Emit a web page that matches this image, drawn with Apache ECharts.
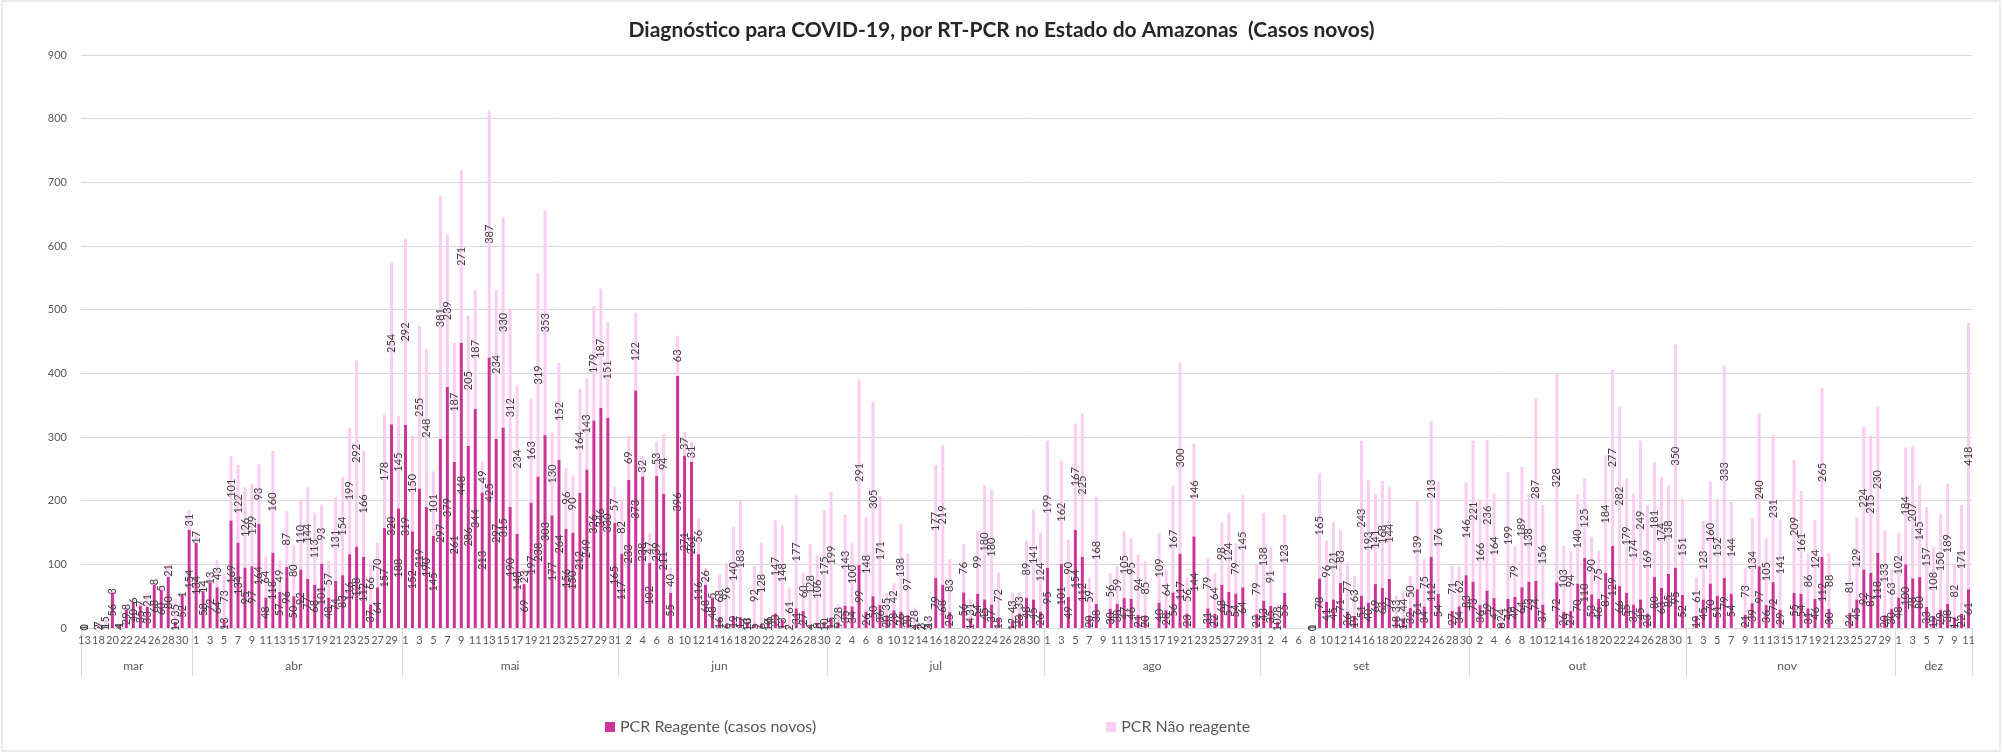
<!DOCTYPE html>
<html>
<head>
<meta charset="utf-8">
<script src="https://cdn.jsdelivr.net/npm/echarts@6/dist/echarts.min.js"></script>
<style>
  html, body { margin: 0; padding: 0; background: #fff; }
  #container { width: 2003px; height: 753px; }
</style>
</head>
<body>
<div id="container"></div>
<script>
    // meses e dias do eixo
    var meses = ['mar', 'abr', 'mai', 'jun', 'jul', 'ago', 'set', 'out', 'nov', 'dez'];
    var diasPorMes = [
        [13, 17, 18, 19, 20, 21, 22, 23, 24, 25, 26, 27, 28, 29, 30, 31],
        [1, 2, 3, 4, 5, 6, 7, 8, 9, 10, 11, 12, 13, 14, 15, 16, 17, 18, 19, 20, 21, 22, 23, 24, 25, 26, 27, 28, 29, 30],
        [1, 2, 3, 4, 5, 6, 7, 8, 9, 10, 11, 12, 13, 14, 15, 16, 17, 18, 19, 20, 21, 22, 23, 24, 25, 26, 27, 28, 29, 30, 31],
        [1, 2, 3, 4, 5, 6, 7, 8, 9, 10, 11, 12, 13, 14, 15, 16, 17, 18, 19, 20, 21, 22, 23, 24, 25, 26, 27, 28, 29, 30],
        [1, 2, 3, 4, 5, 6, 7, 8, 9, 10, 11, 12, 13, 14, 15, 16, 17, 18, 19, 20, 21, 22, 23, 24, 25, 26, 27, 28, 29, 30, 31],
        [1, 2, 3, 4, 5, 6, 7, 8, 9, 10, 11, 12, 13, 14, 15, 16, 17, 18, 19, 20, 21, 22, 23, 24, 25, 26, 27, 28, 29, 30, 31],
        [1, 2, 3, 4, 5, 6, 7, 8, 9, 10, 11, 12, 13, 14, 15, 16, 17, 18, 19, 20, 21, 22, 23, 24, 25, 26, 27, 28, 29, 30],
        [1, 2, 3, 4, 5, 6, 7, 8, 9, 10, 11, 12, 13, 14, 15, 16, 17, 18, 19, 20, 21, 22, 23, 24, 25, 26, 27, 28, 29, 30, 31],
        [1, 2, 3, 4, 5, 6, 7, 8, 9, 10, 11, 12, 13, 14, 15, 16, 17, 18, 19, 20, 21, 22, 23, 24, 25, 26, 27, 28, 29, 30],
        [1, 2, 3, 4, 5, 6, 7, 8, 9, 10, 11]
    ];

    // PCR Reagente (casos novos), por mes
    var reagente = [
        1, null, 2, 1, 56, 4, 29, 40, 35, 33, 68, 60, 80, 10, 52, 154,
        134, 58, 72, 64, 13, 169, 134, 95, 97, 164, 48, 118, 57, 96, 50, 92, 77, 68, 101, 48, 74, 83, 116, 128, 112, 37, 64, 157, 320, 188,
        319, 152, 219, 190, 145, 297, 379, 261, 448, 286, 344, 213, 425, 297, 315, 190, 148, 69, 197, 238, 303, 177, 264, 156, 150, 212, 249, 326, 346, 330, 165,
        117, 233, 373, 238, 102, 239, 211, 55, 396, 271, 261, 116, 68, 48, 16, 6, 19, 17, 10, 5, 6, 10, 23, 13, 2, 31, 27, 4, 8, 10,
        15, 9, 35, 34, 99, 26, 50, 36, 20, 28, 26, 20, 4, 2, 3, 79, 68, 25, null, 56, 14, 54, 45, 37, 15, null, 12, 23, 48, 45, 26,
        95, null, 101, 49, 154, 112, 20, 38, null, 30, 38, 47, 46, 21, 20, null, 40, 28, 56, 117, 23, 144, null, 31, 22, 68, 57, 54, 64, null, 22,
        43, 35, 10, 55, null, null, null, 0, 78, 41, 45, 71, 26, 19, 51, 40, 69, 63, 77, 18, 14, 32, 61, 34, 112, 54, null, 27, 34, 83,
        73, 36, 59, 47, 8, 46, 49, 64, 73, 74, 37, null, 72, 26, 27, 70, 110, 53, 46, 87, 129, 66, 55, 37, 45, 23, 80, 63, 85, 95, 52,
        null, 19, 45, 70, 51, 79, 54, null, 21, 39, 97, 36, 72, 29, null, 55, 54, 31, 46, 112, 30, null, null, 24, 45, 92, 87, 118, 20, 30,
        48, 100, 78, 80, 33, 19, 29, 38, 17, 22, 61
    ];

    // PCR Não reagente, por mes
    var naoReagente = [
        0, null, 7, 15, 3, 1, 8, 6, 7, 21, 8, 5, 21, 35, 1, 31,
        17, 14, 13, 43, 73, 101, 122, 126, 129, 93, 64, 160, 49, 87, 80, 110, 144, 113, 93, 57, 131, 154, 199, 292, 166, 66, 70, 178, 254, 145,
        292, 150, 255, 248, 101, 381, 239, 187, 271, 205, 187, 49, 387, 234, 330, 312, 234, 23, 163, 319, 353, 130, 152, 96, 90, 164, 143, 179, 187, 151, 57,
        82, 69, 122, 32, 47, 53, 94, 40, 63, 37, 31, 56, 26, 5, 68, 96, 140, 183, 3, 92, 128, 6, 147, 148, 61, 177, 60, 128, 106, 175,
        199, 28, 143, 100, 291, 148, 305, 171, 35, 42, 138, 97, 28, 3, 13, 177, 219, 83, null, 76, 31, 99, 180, 180, 72, null, 43, 33, 89, 141, 124,
        199, null, 162, 90, 167, 225, 59, 168, null, 56, 59, 105, 95, 94, 85, null, 109, 64, 167, 300, 56, 146, null, 79, 64, 98, 124, 79, 145, null, 79,
        138, 91, 28, 123, null, null, null, 1, 165, 96, 121, 83, 77, 63, 243, 193, 141, 168, 144, 33, 44, 50, 139, 75, 213, 176, null, 71, 62, 146,
        221, 166, 236, 164, 24, 199, 79, 189, 138, 287, 156, null, 328, 103, 94, 140, 125, 90, 75, 184, 277, 282, 179, 174, 249, 169, 181, 174, 138, 350, 151,
        null, 61, 123, 160, 152, 333, 144, null, 73, 134, 240, 105, 231, 141, null, 209, 161, 86, 124, 265, 88, null, null, 81, 129, 224, 215, 230, 133, 63,
        102, 184, 207, 145, 157, 108, 150, 189, 82, 171, 418
    ];

    var yMax = 900, yStep = 100;

    // eixo de dias + eixo de meses
    var dias = [], mesDoDia = [], inicioMes = {}, meioMes = {};
    diasPorMes.forEach(function (lista, m) {
        inicioMes[dias.length] = true;
        meioMes[dias.length + Math.floor((lista.length - 1) / 2)] = true;
        lista.forEach(function (d) {
            dias.push(String(d));
            mesDoDia.push(meses[m]);
        });
    });

    var fonte = 'Lato, "Open Sans", sans-serif';
    var rotulo = {
        show: true,
        position: 'inside',
        rotate: 90,
        fontSize: 11,
        fontFamily: fonte,
        color: '#404040',
        textBorderWidth: 0,
        formatter: function (p) { return p.value == null ? '' : p.value; }
    };

    var option = {
        animation: false,
        title: {
            text: 'Diagnóstico para COVID-19, por RT-PCR no Estado do Amazonas  (Casos novos)',
            left: 'center',
            top: 15,
            textStyle: { fontSize: 21, fontWeight: 'bold', color: '#262626', fontFamily: fonte }
        },
        legend: {
            left: 600,
            top: 714,
            itemGap: 290,
            itemWidth: 10,
            itemHeight: 10,
            icon: 'rect',
            textStyle: { fontSize: 16, color: '#595959', fontFamily: fonte },
            data: ['PCR Reagente (casos novos)', 'PCR Não reagente']
        },
        grid: { left: 81, right: 31, top: 55, bottom: 125 },
        xAxis: [
            {
                type: 'category',
                data: dias,
                axisLine: { lineStyle: { color: '#d9d9d9' } },
                axisTick: { show: false },
                axisLabel: { interval: 1, color: '#595959', fontSize: 11, fontFamily: fonte, margin: 7 }
            },
            {
                type: 'category',
                position: 'bottom',
                data: mesDoDia,
                axisLine: { show: false },
                axisTick: {
                    show: true,
                    length: 48,
                    lineStyle: { color: '#d9d9d9' },
                    interval: function (i) { return !!inicioMes[i]; }
                },
                axisLabel: {
                    color: '#595959', fontSize: 12, fontFamily: fonte, margin: 32,
                    interval: function (i) { return !!meioMes[i]; }
                }
            }
        ],
        yAxis: {
            type: 'value',
            min: 0,
            max: yMax,
            interval: yStep,
            axisLine: { show: false },
            axisTick: { show: false },
            splitLine: { lineStyle: { color: '#d9d9d9' } },
            axisLabel: { color: '#595959', fontSize: 11, fontFamily: fonte, margin: 14 }
        },
        series: [
            {
                name: 'PCR Reagente (casos novos)',
                type: 'bar',
                stack: 'total',
                barWidth: 3,
                itemStyle: { color: '#CC3399' },
                label: rotulo,
                data: reagente
            },
            {
                name: 'PCR Não reagente',
                type: 'bar',
                stack: 'total',
                barWidth: 3,
                itemStyle: { color: '#FCCCF2' },
                label: rotulo,
                data: naoReagente
            }
        ],
        graphic: [{
            type: 'rect',
            shape: { x: 2, y: 1, width: 1998, height: 750 },
            style: { fill: null, stroke: '#d9d9d9', lineWidth: 1 },
            silent: true
        }]
    };

    var myChart = echarts.init(document.getElementById('container'));
    myChart.setOption(option);
</script>
</body>
</html>
